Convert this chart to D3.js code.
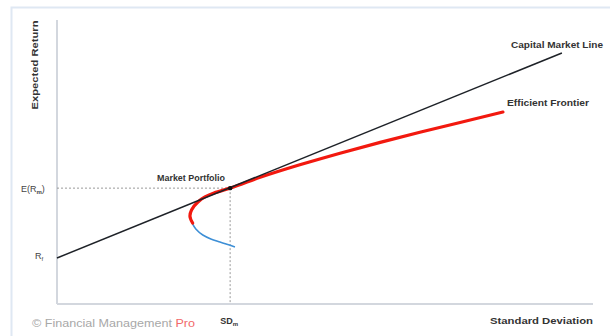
<!DOCTYPE html>
<html lang="en">
<head>
  <meta charset="UTF-8" />
  <title>Capital Market Line</title>
  <style>
    html, body { margin: 0; padding: 0; background: #fff; overflow: hidden; }
    svg { display: block; font-family: "Liberation Sans", Arial, sans-serif; }
    .axis-line { stroke: #d3d7de; stroke-width: 2px; }
    .guide { stroke: #9a9a9a; stroke-width: 1px; stroke-dasharray: 2,2; }
    .lbl { font-weight: bold; fill: #333; }
  </style>
  <script src="https://d3js.org/d3.v7.min.js"></script>
</head>
<body>
  <svg id="chart" width="610" height="336"></svg>
  <script>
    // values in arbitrary units (sd 0..100, return 0..100)
    const riskFree = 16.2;
    const cmlSd = [0, 94.2];
    const cmlRet = [16.2, 88.4];
    const market = { sd: 32.3, ret: 40.8 };

    // upper (efficient) part of the frontier
    const frontierSd  = [25.3, 24.8, 25.1, 26.3, 27.6, 29.3, 32.3, 37.9, 45.3, 52.8, 60.3, 67.7, 75.2, 83.2];
    const frontierRet = [28.5, 31.0, 33.1, 35.9, 37.7, 39.1, 40.8, 44.6, 49.0, 53.1, 56.9, 60.5, 63.9, 67.6];

    // lower (inefficient) part
    const lowerSd  = [25.3, 25.9, 27.2, 28.7, 30.4, 33.2];
    const lowerRet = [28.2, 26.4, 24.3, 22.9, 21.8, 20.1];

    const svg = d3.select("#chart");
    const x = d3.scaleLinear().domain([0, 100]).range([57, 593]);
    const y = d3.scaleLinear().domain([0, 100]).range([304, 20]);

    // outer frame
    svg.append("rect")
      .attr("x", 11.5).attr("y", 7.5)
      .attr("width", 700).attr("height", 400)
      .attr("fill", "none")
      .attr("stroke", "#dfe8f3")
      .attr("stroke-width", 2);

    // axes
    svg.append("line").attr("class", "axis-line")
      .attr("x1", x(0)).attr("y1", y(100)).attr("x2", x(0)).attr("y2", y(0));
    svg.append("line").attr("class", "axis-line")
      .attr("x1", x(0)).attr("y1", y(0)).attr("x2", x(100)).attr("y2", y(0));

    // guides to market portfolio
    svg.append("line").attr("class", "guide")
      .attr("x1", x(0)).attr("y1", y(market.ret)).attr("x2", x(market.sd)).attr("y2", y(market.ret));
    svg.append("line").attr("class", "guide")
      .attr("x1", x(market.sd)).attr("y1", y(market.ret)).attr("x2", x(market.sd)).attr("y2", y(0));

    const line = d3.line()
      .x(d => x(d[0]))
      .y(d => y(d[1]))
      .curve(d3.curveMonotoneY);

    // lower frontier
    svg.append("path")
      .datum(d3.zip(lowerSd, lowerRet))
      .attr("d", line)
      .attr("fill", "none")
      .attr("stroke", "#3d8fd6")
      .attr("stroke-width", 1.6);

    // efficient frontier
    svg.append("path")
      .datum(d3.zip(frontierSd, frontierRet))
      .attr("d", line)
      .attr("fill", "none")
      .attr("stroke", "#f2190f")
      .attr("stroke-width", 3.2)
      .attr("stroke-linecap", "round");

    // capital market line
    svg.append("path")
      .datum(d3.zip(cmlSd, cmlRet))
      .attr("d", d3.line().x(d => x(d[0])).y(d => y(d[1])))
      .attr("fill", "none")
      .attr("stroke", "#1e2228")
      .attr("stroke-width", 1.5);

    svg.append("circle")
      .attr("cx", x(market.sd)).attr("cy", y(market.ret))
      .attr("r", 2.2).attr("fill", "#111");

    // labels
    function label(txt, px, py, size, len, anchor) {
      const t = svg.append("text").attr("class", "lbl")
        .attr("x", px).attr("y", py)
        .attr("font-size", size)
        .attr("text-anchor", anchor || "start")
        .text(txt);
      if (len) t.attr("textLength", len).attr("lengthAdjust", "spacingAndGlyphs");
      return t;
    }

    label("Market Portfolio", 157, 181, 8.5, 68);
    label("Capital Market Line", 511, 48, 8.5, 92);
    label("Efficient Frontier", 507, 106, 8.5, 82);
    label("Standard Deviation", 490, 324, 9.5, 103);

    svg.append("text").attr("class", "lbl")
      .attr("transform", `translate(38,${65}) rotate(-90)`)
      .attr("text-anchor", "middle")
      .attr("font-size", 9)
      .attr("textLength", 89).attr("lengthAdjust", "spacingAndGlyphs")
      .text("Expected Return");

    // E(Rm)
    const erm = svg.append("text").attr("x", 21).attr("y", y(market.ret) + 3.5)
      .attr("font-size", 9).attr("fill", "#444");
    erm.append("tspan").text("E(R");
    erm.append("tspan").attr("font-size", 6).attr("font-weight", "bold").attr("dy", 2).text("m");
    erm.append("tspan").attr("dy", -2).text(")");

    // Rf
    const rf = svg.append("text").attr("x", 35).attr("y", y(riskFree) + 1)
      .attr("font-size", 9).attr("fill", "#444");
    rf.append("tspan").text("R");
    rf.append("tspan").attr("font-size", 6).attr("dy", 2).text("f");

    // SDm
    const sdm = svg.append("text").attr("x", x(market.sd) - 10).attr("y", 324)
      .attr("font-size", 9).attr("font-weight", "bold").attr("fill", "#333");
    sdm.append("tspan").text("SD");
    sdm.append("tspan").attr("font-size", 6).attr("dy", 2).text("m");

    // copyright
    const cp = svg.append("text").attr("x", 32).attr("y", 327)
      .attr("font-size", 11).attr("fill", "#a8a8a8")
      .attr("textLength", 163).attr("lengthAdjust", "spacingAndGlyphs");
    cp.append("tspan").text("© Financial Management ");
    cp.append("tspan").attr("fill", "#f26a6a").text("Pro");
  </script>
</body>
</html>
